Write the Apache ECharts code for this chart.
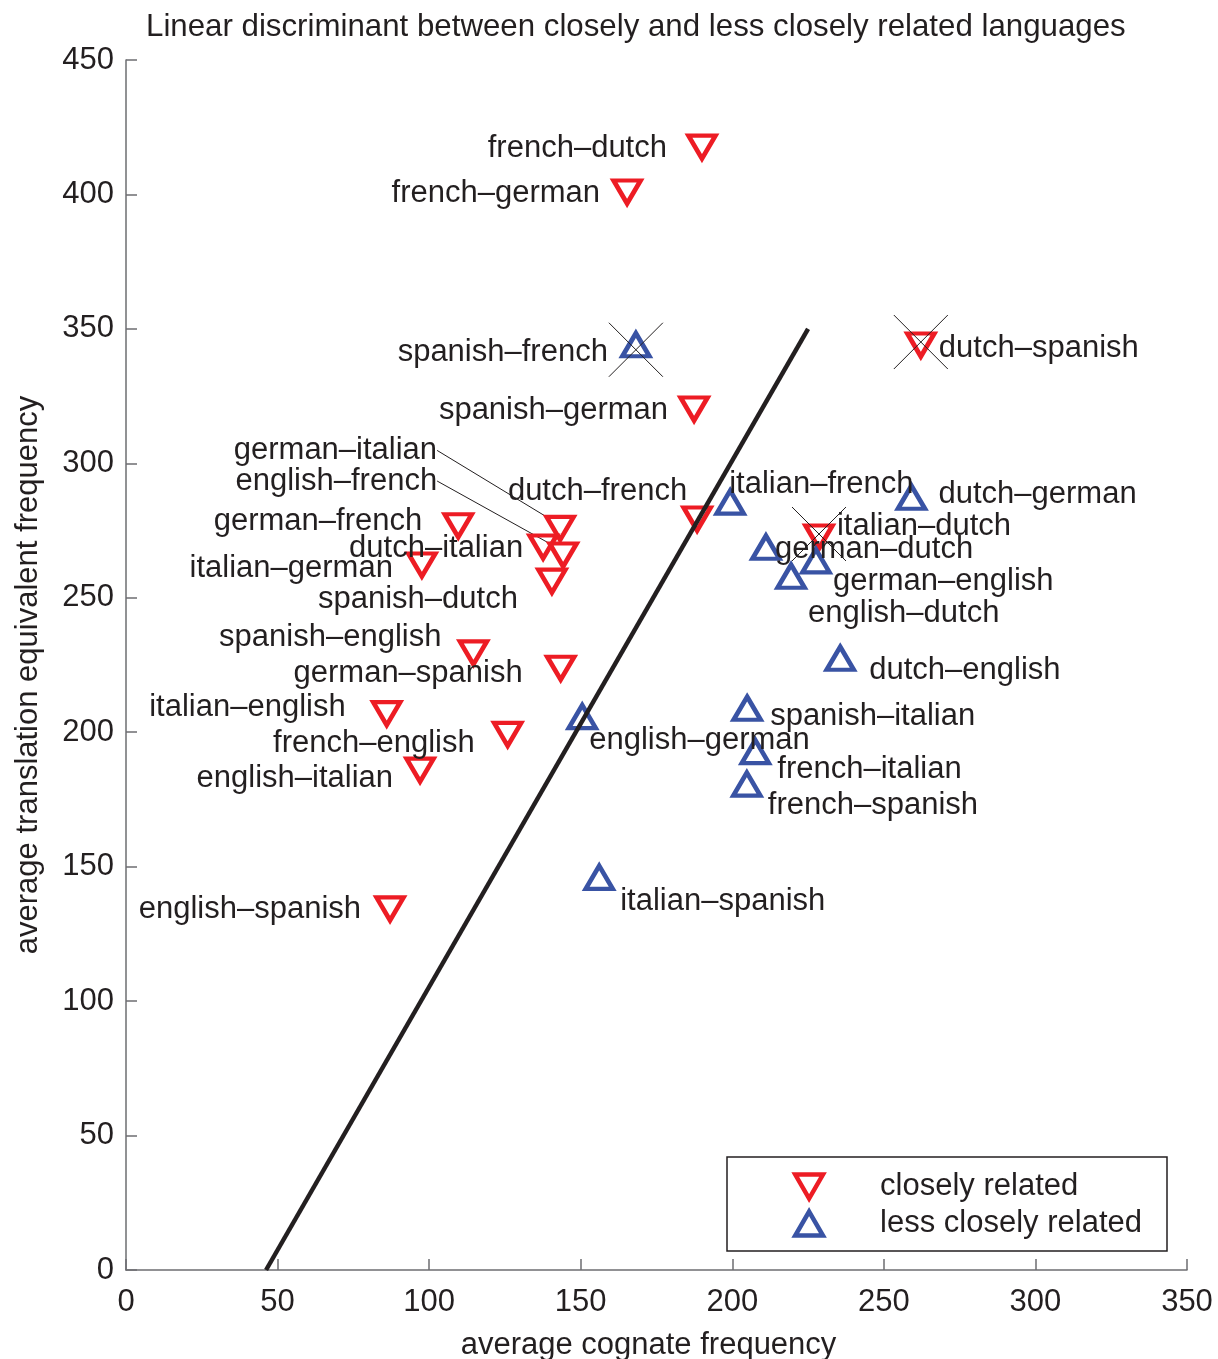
<!DOCTYPE html>
<html>
<head>
<meta charset="utf-8">
<script src="https://cdn.jsdelivr.net/npm/echarts@6/dist/echarts.min.js"></script>
<style>html,body{margin:0;padding:0;background:#fff}#c{width:1218px;height:1359px}</style>
</head>
<body>
<div id="c"></div>
<script>
// ---------- data ----------
const xTicks = [0, 50, 100, 150, 200, 250, 300, 350];
const yTicks = [0, 50, 100, 150, 200, 250, 300, 350, 400, 450];

const closeNames = ['french–dutch','french–german','dutch–spanish','spanish–german','dutch–french','italian–dutch',
  'german–french','german–italian','english–french','dutch–italian','italian–german','spanish–dutch',
  'spanish–english','german–spanish','italian–english','french–english','english–italian','english–spanish'];
const closeX = [190.0,165.3,262.2,187.4,188.4,228.6,109.6,143.2,144.2,137.6,97.6,140.5,114.6,143.4,86.0,125.9,97.0,87.1];
const closeY = [417.6,400.9,344.0,320.2,279.3,272.6,276.8,275.8,265.9,268.9,262.2,256.2,229.5,223.8,206.9,199.2,185.9,134.3];

const lessNames = ['spanish–french','italian–french','dutch–german','german–dutch','german–english','english–dutch',
  'dutch–english','spanish–italian','english–german','french–italian','french–spanish','italian–spanish'];
const lessX = [168.2,199.3,259.1,211.1,227.6,219.4,235.6,204.9,150.5,207.6,204.8,156.1];
const lessY = [344.1,285.6,287.4,268.8,263.7,258.0,227.5,208.9,205.8,192.8,180.7,146.0];

const misclassified = ['spanish–french','dutch–spanish','italian–dutch'];

const discX = [46.2, 225.0];
const discY = [0, 350];

const seriesNames = ['closely related', 'less closely related'];
const titleText = 'Linear discriminant between closely and less closely related languages';
const xName = 'average cognate frequency';
const yName = 'average translation equivalent frequency';

// ---------- layout / style ----------
// label placement: [side, gap(px), vertical offset(px)]
const labelPlace = {
  'french–dutch':['L',35,-3], 'french–german':['L',27,-3], 'dutch–spanish':['R',18,-1],
  'spanish–german':['L',26,-3], 'dutch–french':['L',10,-32], 'italian–dutch':['R',18,-15],
  'german–french':['L',36,-8], 'german–italian':['L',123,-82], 'english–french':['L',126,-78],
  'dutch–italian':['L',20,-3], 'italian–german':['L',29,-1], 'spanish–dutch':['L',34,14],
  'spanish–english':['L',32,-19], 'german–spanish':['L',38,1], 'italian–english':['L',41,-10],
  'french–english':['L',33,5], 'english–italian':['L',27,4], 'english–spanish':['L',29,-3],
  'spanish–french':['L',28,4], 'italian–french':['R',-1,-22], 'dutch–german':['R',27,-7],
  'german–dutch':['R',9,-2], 'german–english':['R',17,17], 'english–dutch':['R',17,33],
  'dutch–english':['R',29,8], 'spanish–italian':['R',23,4], 'english–german':['R',7,20],
  'french–italian':['R',22,14], 'french–spanish':['R',21,17], 'italian–spanish':['R',21,20]
};
const LABEL_SHIFT = 4;
const leaderLabels = ['german–italian', 'english–french'];

const FONT = '"Liberation Sans", Arial, Helvetica, sans-serif';
const TXT = '#231f20';
const RED = '#ed1c24';
const BLUE = '#3953a4';
const AXIS = '#6d6e71';
const DOWN = 'path://M0,0 L20,0 L10,17.32 Z';
const UP = 'path://M10,0 L20,17.32 L0,17.32 Z';
const CROSS = 'path://M0,0 L10,10 M10,0 L0,10';

function buildItems(names, xs, ys) {
  return names.map((n, i) => {
    const p = labelPlace[n];
    const left = p[0] === 'L';
    const it = {
      name: n,
      value: [xs[i], ys[i]],
      label: {
        show: true, position: 'inside', formatter: '{b}',
        color: TXT, fontSize: 31, fontFamily: FONT, textBorderWidth: 0,
        align: left ? 'right' : 'left', verticalAlign: 'middle',
        offset: [left ? -p[1] : p[1], p[2] + LABEL_SHIFT]
      }
    };
    if (leaderLabels.indexOf(n) >= 0) {
      it.labelLine = { show: true, lineStyle: { color: TXT, width: 1 } };
    }
    return it;
  });
}

const crossData = misclassified.map(n => {
  let i = closeNames.indexOf(n);
  if (i >= 0) return { name: n, value: [closeX[i], closeY[i]], symbolOffset: [0, -3] };
  i = lessNames.indexOf(n);
  return { name: n, value: [lessX[i], lessY[i]], symbolOffset: [0, 5] };
});

const chart = echarts.init(document.getElementById('c'), null, { renderer: 'canvas' });
chart.setOption({
  animation: false,
  backgroundColor: '#fff',
  title: {
    text: titleText, left: 146, top: 12, padding: 0,
    textStyle: { fontSize: 31.25, fontWeight: 'normal', color: TXT, fontFamily: FONT }
  },
  grid: { left: 126, right: 31, top: 60, bottom: 89, containLabel: false, outerBoundsMode: 'none' },
  legend: {
    orient: 'vertical', left: 727, top: 1157, padding: [14, 25, 12, 66],
    itemWidth: 132, itemHeight: 24, itemGap: 6,
    borderColor: TXT, borderWidth: 1.5, backgroundColor: '#fff',
    symbolKeepAspect: true, selectedMode: false,
    itemStyle: { borderWidth: 4.5 },
    textStyle: { fontSize: 31, color: TXT, fontFamily: FONT },
    data: seriesNames
  },
  xAxis: {
    type: 'value', min: xTicks[0], max: xTicks[xTicks.length - 1], interval: xTicks[1] - xTicks[0],
    name: xName, nameLocation: 'middle', nameGap: 60,
    nameTextStyle: { fontSize: 31, color: TXT, fontFamily: FONT, padding: [0, 16, 0, 0] },
    axisLine: { show: true, onZero: false, lineStyle: { color: AXIS, width: 1.5 } },
    axisTick: { show: true, inside: true, length: 11, lineStyle: { color: AXIS, width: 1.5 } },
    axisLabel: { margin: 17, fontSize: 31, color: TXT, fontFamily: FONT },
    splitLine: { show: false }
  },
  yAxis: {
    type: 'value', min: yTicks[0], max: yTicks[yTicks.length - 1], interval: yTicks[1] - yTicks[0],
    name: yName, nameLocation: 'middle', nameGap: 82,
    nameTextStyle: { fontSize: 31, color: TXT, fontFamily: FONT, padding: [0, 20, 0, 0] },
    axisLine: { show: true, onZero: false, lineStyle: { color: AXIS, width: 1.5 } },
    axisTick: { show: true, inside: true, length: 11, lineStyle: { color: AXIS, width: 1.5 } },
    axisLabel: { margin: 12, fontSize: 31, color: TXT, fontFamily: FONT },
    splitLine: { show: false }
  },
  series: [
    {
      name: seriesNames[0], type: 'scatter', symbol: DOWN, symbolSize: [27, 23], z: 2,
      itemStyle: { color: 'rgba(255,255,255,0)', borderColor: RED, borderWidth: 4.5, borderJoin: 'miter', opacity: 1 },
      emphasis: { disabled: true },
      data: buildItems(closeNames, closeX, closeY)
    },
    {
      name: seriesNames[1], type: 'scatter', symbol: UP, symbolSize: [27, 23], z: 2,
      itemStyle: { color: 'rgba(255,255,255,0)', borderColor: BLUE, borderWidth: 4.5, borderJoin: 'miter', opacity: 1 },
      emphasis: { disabled: true },
      data: buildItems(lessNames, lessX, lessY)
    },
    {
      name: 'misclassified', type: 'scatter', symbol: CROSS, symbolSize: 54, z: 4,
      itemStyle: { color: 'rgba(0,0,0,0)', borderColor: TXT, borderWidth: 1, opacity: 1 },
      emphasis: { disabled: true }, silent: true,
      data: crossData
    },
    {
      name: 'discriminant', type: 'line', symbol: 'none', z: 3, silent: true,
      lineStyle: { color: TXT, width: 4.5 },
      data: discX.map((x, i) => [x, discY[i]])
    }
  ]
});
</script>
</body>
</html>
